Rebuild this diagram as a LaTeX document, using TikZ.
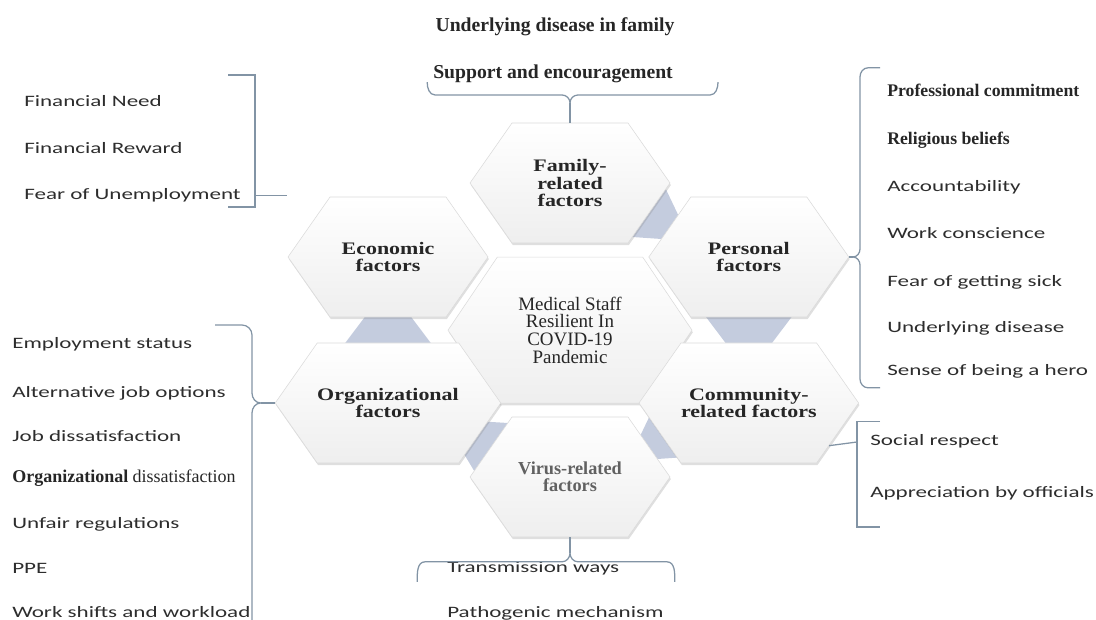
\documentclass[tikz,border=0pt]{standalone}
\usepackage{fontspec}
\setmainfont{Liberation Serif}
\newfontfamily\listfont[FakeStretch=1.45]{Carlito}
\newfontfamily\hexfont[FakeStretch=1.25]{Liberation Serif}
\usetikzlibrary{shapes.symbols, shadows, backgrounds, positioning}

\definecolor{bracecol}{RGB}{130,148,165}
\definecolor{linkcol}{RGB}{196,204,222}
\definecolor{listcol}{RGB}{45,45,45}

\begin{document}
\begin{tikzpicture}[
    hexcell/.style={signal, signal to=west and east, signal pointer angle=110,
        minimum width=5cm, minimum height=3cm, inner sep=0pt, align=center,
        draw=gray!28, top color=white, bottom color=gray!13,
        drop shadow={opacity=0.25, shadow xshift=0.6pt, shadow yshift=-1.5pt},
        font=\hexfont\bfseries\fontsize{12.5}{12.2}\selectfont, text=black!85},
    listitem/.style={anchor=base west, inner sep=0pt,
        font=\listfont\fontsize{11.3}{13}\selectfont, text=listcol},
    serifitem/.style={anchor=base west, inner sep=0pt,
        font=\bfseries\fontsize{12.6}{14}\selectfont, text=black!85},
    braceline/.style={draw=bracecol, line width=0.9pt}
]
    \useasboundingbox (0,0) rectangle (27.4,15.475);

    % hexagons
    \node[hexcell, minimum width=6.1cm, minimum height=3.65cm, signal pointer angle=112,
          font=\fontsize{13.5}{12.6}\selectfont] (core) at (14.25,7.22)
          {Medical Staff\\Resilient In\\COVID-19\\Pandemic};
    \node[hexcell] (fam) at (14.25,10.9) {Family-\\related\\factors};
    \node[hexcell] (eco) at (9.7,9.05) {Economic\\factors};
    \node[hexcell] (per) at (18.72,9.05) {Personal\\factors};
    \node[hexcell] (org) at (9.7,5.4) {Organizational\\factors};
    \node[hexcell] (com) at (18.72,5.4) {Community-\\related factors};
    \node[hexcell, font=\bfseries\fontsize{13}{12.4}\selectfont, text=black!62] (vir) at (14.25,3.55)
          {Virus-related\\factors};

    % links between the outer cells
    \begin{scope}[on background layer]
        \fill[linkcol] (16.645,10.75) -- (16.955,10.1) -- (16.535,9.5) -- (15.805,9.55) -- cycle;
        \fill[linkcol] (17.65,7.55) -- (19.79,7.55) -- (19.3,6.9) -- (18.14,6.9) -- cycle;
        \fill[linkcol] (16.325,5.25) -- (17.165,4.05) -- (16.435,4.0) -- (16.015,4.6) -- cycle;
        \fill[linkcol] (11.855,3.7) -- (12.695,4.9) -- (11.885,4.95) -- (11.465,4.35) -- cycle;
        \fill[linkcol] (8.63,6.9) -- (10.77,6.9) -- (10.28,7.55) -- (9.12,7.55) -- cycle;
    \end{scope}

    % family
    \node[anchor=base, inner sep=0pt, font=\bfseries\fontsize{14}{16}\selectfont, text=black!85]
        (famA) at (13.875,14.69) {Underlying disease in family};
    \node[anchor=base west, inner sep=0pt, font=\bfseries\fontsize{14}{16}\selectfont, text=black!85]
        (famB) at (10.825,13.51) {Support and encouragement};
    \coordinate (famtip) at (14.25,12.9);
    \draw[braceline] (10.68,13.42) to[out=-90,in=180] (10.88,13.1) -- (14.05,13.1)
        to[out=0,in=90] (famtip) to[out=90,in=180] (14.45,13.1) -- (17.75,13.1)
        to[out=0,in=-90] (17.95,13.42);
    \draw[braceline] (famtip) -- (fam.north);

    % economic
    \node[listitem] (ecoA) at (0.6,12.82) {Financial Need};
    \node[listitem] (ecoB) at (0.6,11.645) {Financial Reward};
    \node[listitem] (ecoC) at (0.6,10.495) {Fear of Unemployment};
    \coordinate (ecoend) at (7.175,10.58);
    \draw[braceline] (5.7,13.6) -- (6.375,13.6) -- (6.375,10.3) -- (5.7,10.3);
    \draw[braceline] (6.375,10.58) -- (ecoend);

    % organizational
    \node[listitem] (orgA) at (0.3,6.77) {Employment status};
    \node[listitem] (orgB) at (0.3,5.545) {Alternative job options};
    \node[listitem] (orgC) at (0.3,4.445) {Job dissatisfaction};
    \node[anchor=base west, inner sep=0pt, font=\fontsize{12.8}{14}\selectfont, text=black!85]
        (orgD) at (0.3,3.4) {\textbf{Organizational} dissatisfaction};
    \node[listitem] (orgE) at (0.3,2.27) {Unfair regulations};
    \node[listitem] (orgF) at (0.3,1.145) {PPE};
    \node[listitem] (orgG) at (0.3,0.045) {Work shifts and workload};
    \coordinate (orgtip) at (6.52,5.4);
    \draw[braceline] (5.375,7.35) -- (6.05,7.35) to[out=0,in=90] (6.3,7.1) -- (6.3,5.65)
        to[out=-90,in=180] (orgtip) to[out=180,in=90] (6.3,5.15) -- (6.3,-0.2);
    \draw[braceline] (orgtip) -- (org.west);

    % personal
    \node[serifitem] (perA) at (22.175,13.05) {Professional commitment};
    \node[serifitem] (perB) at (22.175,11.85) {Religious beliefs};
    \node[listitem] (perC) at (22.175,10.695) {Accountability};
    \node[listitem] (perD) at (22.175,9.52) {Work conscience};
    \node[listitem] (perE) at (22.175,8.32) {Fear of getting sick};
    \node[listitem] (perF) at (22.175,7.17) {Underlying disease};
    \node[listitem] (perG) at (22.175,6.095) {Sense of being a hero};
    \coordinate (pertip) at (21.32,9.05);
    \draw[braceline] (22.0,13.78) -- (21.7,13.78) to[out=180,in=90] (21.5,13.55) -- (21.5,9.25)
        to[out=-90,in=0] (pertip) to[out=0,in=90] (21.5,8.85) -- (21.5,6.0)
        to[out=-90,in=180] (21.7,5.78) -- (22.0,5.78);
    \draw[braceline] (per.east) -- (pertip);

    % community
    \node[listitem] (comA) at (21.75,4.345) {Social respect};
    \node[listitem] (comB) at (21.75,3.045) {Appreciation by officials};
    \coordinate (comtip) at (21.425,4.425);
    \draw[braceline] (22.0,4.93) -- (21.425,4.93) -- (21.425,2.3) -- (22.0,2.3);
    \draw[braceline] (com.-28) -- (comtip);

    % virus
    \node[listitem] (virA) at (11.175,1.17) {Transmission ways};
    \node[listitem] (virB) at (11.175,0.045) {Pathogenic mechanism};
    \coordinate (virtip) at (14.25,1.65);
    \draw[braceline] (10.43,0.93) to[out=90,in=180] (10.63,1.43) -- (14.05,1.43)
        to[out=0,in=-90] (virtip) to[out=-90,in=180] (14.45,1.43) -- (16.67,1.43)
        to[out=0,in=90] (16.87,0.93);
    \draw[braceline] (virtip) -- (vir.south);
\end{tikzpicture}
\end{document}
